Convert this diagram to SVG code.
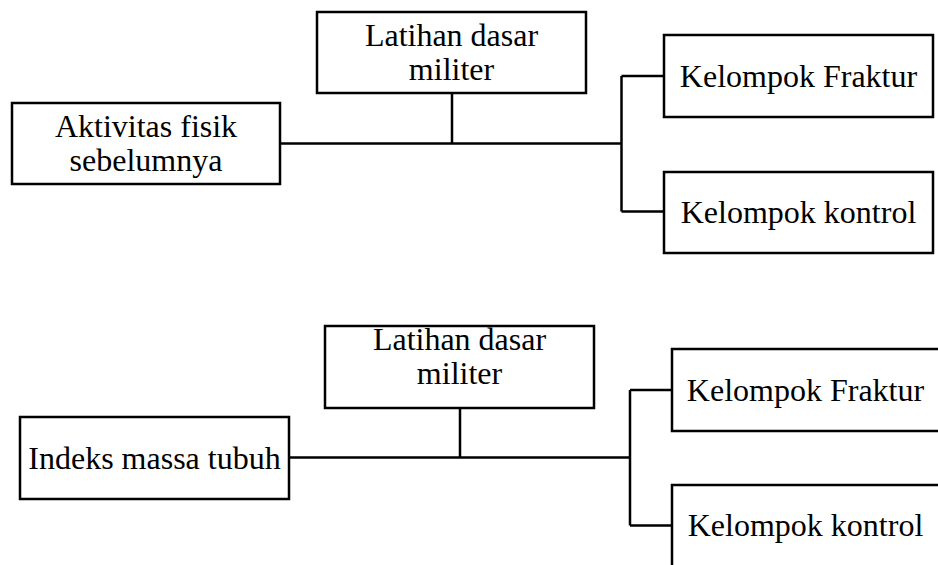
<svg xmlns="http://www.w3.org/2000/svg" width="938" height="565" viewBox="0 0 938 565">
<style>
.box{fill:#fff;stroke:#000;stroke-width:2.5}
.lbl{font-family:'Liberation Serif','DejaVu Serif',serif;font-size:32px;fill:#000;text-anchor:middle}
.con{fill:none;stroke:#000;stroke-width:2.5}
</style>
<rect width="938" height="565" fill="#fff"/>
<g id="connectors">
<path class="con" d="M452,93 V143.5 M280,143.5 H621.5 M621.5,76 V211.5 M621.5,76 H664 M621.5,211.5 H664"/>
<path class="con" d="M460,408 V457.5 M289,457.5 H630 M630,390 V525.5 M630,390 H672 M630,525.5 H672"/>
</g>
<g id="n1"><rect class="box" x="317" y="12" width="269" height="81"/><text class="lbl" x="451.5" y="46">Latihan dasar</text><text class="lbl" x="451.5" y="80">militer</text></g>
<g id="n2"><rect class="box" x="12" y="103" width="268" height="81"/><text class="lbl" x="146" y="137">Aktivitas fisik</text><text class="lbl" x="146" y="171">sebelumnya</text></g>
<g id="n3"><rect class="box" x="664" y="35" width="269" height="82"/><text class="lbl" x="798.5" y="87">Kelompok Fraktur</text></g>
<g id="n4"><rect class="box" x="664" y="172" width="269" height="81"/><text class="lbl" x="798.5" y="223">Kelompok kontrol</text></g>
<g id="n5"><rect class="box" x="325" y="326" width="269" height="82"/><text class="lbl" x="459.5" y="350">Latihan dasar</text><text class="lbl" x="459.5" y="384">militer</text></g>
<g id="n6"><rect class="box" x="20" y="417" width="269" height="82"/><text class="lbl" x="154.5" y="469">Indeks massa tubuh</text></g>
<g id="n7"><rect class="box" x="672" y="349" width="268" height="82"/><text class="lbl" x="805.5" y="401">Kelompok Fraktur</text></g>
<g id="n8"><rect class="box" x="672" y="485" width="268" height="82"/><text class="lbl" x="805.5" y="536">Kelompok kontrol</text></g>
</svg>
